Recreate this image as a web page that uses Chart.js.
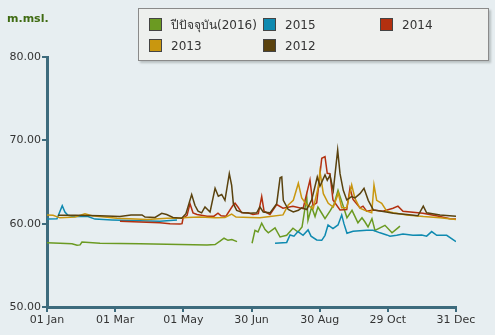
<!DOCTYPE html>
<html>
<head>
<meta charset="utf-8">
<script src="https://cdn.jsdelivr.net/npm/chart.js@4.4.1/dist/chart.umd.min.js"></script>
<style>
  body { margin: 0; background: #e7eef1; font-family: "DejaVu Sans", sans-serif; }
  #wrap { position: relative; width: 495px; height: 335px; }
  #unit { position: absolute; left: 7px; top: 12px; font-size: 11px; font-weight: bold; color: #3f6b12; }
  #legend {
    position: absolute; left: 138px; top: 8px; width: 349px; height: 51px;
    background: #eef0ee; border: 1px solid #8a8a8a; box-shadow: 2px 2px 2px #b9c0c2;
  }
  .item { position: absolute; font-size: 12px; color: #333; white-space: nowrap; line-height: 14px; }
  .item span { display: inline-block; width: 11px; height: 11px; border: 1px solid #444; vertical-align: -2px; margin-right: 9px; }
</style>
</head>
<body>
<div id="wrap">
  <canvas id="c" width="495" height="335"></canvas>
  <div id="unit">m.msl.</div>
  <div id="legend"></div>
</div>
<script>
// legend names and colours
const seriesNames = ['ปีปัจจุบัน(2016)', '2015', '2014', '2013', '2012'];
const seriesColors = ['#6b9a22', '#0f8ab0', '#b3300f', '#c9970f', '#5a420e'];

// x axis ticks (day of year)
const tickDays = [0, 60.83, 121.67, 182.5, 243.33, 304.17, 365];
const tickLabels = ['01 Jan', '01 Mar', '01 May', '30 Jun', '30 Aug', '29 Oct', '31 Dec'];

// 2016 - null marks the break in the record
const days2016 = [0, 11.6, 22.3, 26.8, 29.5, 31.2, 47.3, 83, 118.7, 142.8, 150, 154.4, 158, 161.5, 165, 169.6, 176,
  183, 185.6, 188.3, 191.6, 194.6, 197.5, 203.5, 208, 213.9, 219.5, 224, 227.6, 231.8, 232.9, 236.2, 239.2, 241.8,
  245.2, 248.1, 252.5, 256.1, 259.7, 264.1, 267.7, 272.2, 277.5, 281.1, 283.8, 286.5, 290, 292.7, 301.6, 307.9, 313.2, 315];
const level2016 = [57.72, 57.65, 57.6, 57.4, 57.45, 57.8, 57.65, 57.6, 57.5, 57.45, 57.5, 57.9, 58.25, 58.0, 58.1, 57.85, null,
  57.65, 59.2, 59.0, 60.05, 59.3, 58.9, 59.5, 58.4, 58.6, 59.45, 59.0, 59.6, 63.2, 60.4, 62.0, 60.85, 62.0,
  61.25, 60.6, 61.5, 62.3, 64.0, 62.2, 60.7, 61.6, 60.1, 60.7, 60.2, 59.6, 60.6, 59.2, 59.8, 58.9, 59.5, 59.7];

// 2015
const days2015 = [0, 8.9, 13.6, 16, 18.7, 23.2, 36.6, 42.8, 58, 83, 100.8, 116, 160,
  203.5, 213.9, 216.9, 220.4, 224, 228.5, 233, 235.6, 240.7, 245.2, 248.1, 250.8, 255.2, 259.7, 263, 265, 267.7,
  273.1, 285.3, 291, 297.2, 303.2, 306.1, 312.1, 317.7, 326.6, 334.4, 338.8, 343.3, 347.8, 356.7, 365];
const level2015 = [60.55, 60.6, 62.15, 61.4, 61.0, 60.85, 60.85, 60.55, 60.45, 60.35, 60.3, 60.45, null,
  57.65, 57.75, 58.65, 58.5, 59.05, 58.6, 59.25, 58.5, 58.05, 58.0, 58.6, 59.85, 59.4, 59.85, 61.05, 60.0, 58.85,
  59.1, 59.2, 59.2, 58.9, 58.65, 58.5, 58.6, 58.75, 58.6, 58.65, 58.5, 59.05, 58.6, 58.6, 57.85];

// 2014
const days2014 = [65.1, 83, 100.8, 109.8, 118.7, 120.5, 121.4, 125, 127.6, 130.3, 133.9, 136.5, 142.8, 149, 152.6,
  155.3, 159.7, 166, 167.8, 170.4, 173.8, 179.4, 183.8, 188.6, 191.6, 193.7, 199, 205, 210.6, 219.5, 228.5, 234.7,
  237.4, 240.7, 245.2, 248.1, 250.1, 252.5, 255.2, 261.5, 267.5, 270.4, 273.1, 279.3, 282, 285.3, 291, 299.8, 308.8,
  313.2, 317.7, 335.5, 350.7, 359.6, 365];
const level2014 = [60.3, 60.2, 60.1, 60.0, 59.95, 60.0, 60.65, 61.0, 62.4, 61.3, 61.1, 61.05, 60.9, 60.9, 61.25,
  60.95, 60.9, 62.2, 62.45, 62.0, 61.3, 61.3, 61.1, 61.2, 63.25, 61.5, 61.1, 62.3, 61.85, 62.1, 61.8, 65.25,
  62.2, 62.5, 67.85, 68.05, 66.05, 66.0, 62.85, 61.65, 61.7, 64.25, 62.9, 61.9, 62.1, 61.5, 61.65, 61.5, 61.85,
  62.1, 61.5, 61.25, 60.85, 60.6, 60.55];

// 2013
const days2013 = [0, 5.4, 11.6, 25, 33.9, 40.2, 62.5, 89.2, 107, 116, 125, 136.5, 150, 158.8, 164.8, 168.7, 181.2,
  190, 199, 210.6, 215.3, 219.8, 224.3, 227.3, 231.8, 237.6, 242.1, 243.6, 246.6, 251, 255.5, 260, 263, 267.5,
  271.9, 274.9, 279.3, 285.3, 289.8, 291.8, 294.2, 298.7, 303.2, 309, 321, 335.8, 350.7, 365];
const level2013 = [61.05, 61.0, 60.7, 60.8, 61.2, 60.95, 60.65, 60.5, 60.65, 60.65, 60.75, 60.8, 60.7, 60.75, 61.15, 60.8, 60.75,
  60.7, 60.85, 61.05, 62.25, 62.8, 64.85, 63.1, 62.25, 61.8, 64.45, 66.25, 63.6, 62.45, 62.0, 63.65, 61.9, 61.9,
  64.65, 63.0, 61.85, 61.5, 61.3, 64.65, 62.8, 62.45, 61.5, 61.3, 61.05, 60.85, 60.7, 60.5];

// 2012
const days2012 = [9.8, 25, 47.3, 65, 75, 84.8, 87.5, 96.4, 102.4, 106.8, 112.4, 120.2, 124, 129.1, 132, 134.8, 138,
  141, 145.5, 150, 152.9, 155.9, 158.8, 162.7, 164.8, 166.3, 169.3, 175.2, 181.2, 187.1, 190, 193, 199, 205, 208,
  209.5, 210.9, 215.3, 219.8, 224.3, 227.3, 231.8, 236.2, 241.2, 243.6, 248.1, 250.1, 252.5, 255.5, 259.4, 261.5,
  264.4, 267.5, 271.9, 274.9, 279.3, 282.9, 286.7, 291.2, 300.1, 309, 321, 331, 335.8, 338.8, 350.7, 365];
const level2012 = [61.0, 61.0, 60.95, 60.85, 61.05, 61.05, 60.8, 60.75, 61.25, 61.1, 60.75, 60.65, 61.2, 63.5, 62.2, 61.5, 61.3,
  62.0, 61.4, 64.25, 63.3, 63.5, 62.8, 66.0, 64.6, 62.4, 61.6, 61.3, 61.25, 61.3, 62.0, 61.4, 61.3, 62.4, 65.5,
  65.6, 62.8, 61.7, 61.4, 61.6, 61.9, 61.7, 62.85, 65.6, 64.5, 65.85, 65.2, 65.8, 64.0, 68.85, 66.0,
  64.0, 62.85, 63.25, 63.1, 63.6, 64.25, 62.8, 61.65, 61.45, 61.25, 61.1, 60.95, 62.1, 61.3, 61.05, 60.9];

const seriesDays = [days2016, days2015, days2014, days2013, days2012];
const seriesLevels = [level2016, level2015, level2014, level2013, level2012];

// build the html legend
const legend = document.getElementById('legend');
const legendPos = [[10, 9], [124, 9], [241, 9], [10, 30], [124, 30]];
seriesNames.forEach((name, i) => {
  const d = document.createElement('div');
  d.className = 'item';
  d.style.left = legendPos[i][0] + 'px';
  d.style.top = legendPos[i][1] + 'px';
  d.innerHTML = '<span style="background:' + seriesColors[i] + '"></span>' + name;
  legend.appendChild(d);
});

const axisColor = '#3d6b7d';

const datasets = seriesNames.map((name, i) => ({
  label: name,
  data: seriesDays[i].map((d, j) => ({ x: d, y: seriesLevels[i][j] })),
  borderColor: seriesColors[i],
  backgroundColor: seriesColors[i],
  borderWidth: 1.5,
  pointRadius: 0,
  tension: 0,
  spanGaps: false,
  order: 4 - i
}));

new Chart(document.getElementById('c'), {
  type: 'line',
  data: { datasets: datasets },
  options: {
    responsive: false,
    animation: false,
    layout: { padding: { left: 0, top: 57, right: 39, bottom: 0 } },
    plugins: { legend: { display: false }, tooltip: { enabled: false } },
    scales: {
      x: {
        type: 'linear',
        min: 0,
        max: 365,
        afterBuildTicks: (scale) => { scale.ticks = tickDays.map(v => ({ value: v })); },
        afterFit: (scale) => { scale.height = 28; },
        ticks: {
          autoSkip: false,
          maxRotation: 0,
          color: '#333',
          font: { family: 'DejaVu Sans', size: 11 },
          padding: 2,
          callback: (v, i) => tickLabels[i]
        },
        grid: { drawOnChartArea: false, color: axisColor, lineWidth: 2, tickLength: 5 },
        border: { color: axisColor, width: 3 }
      },
      y: {
        min: 50,
        max: 80,
        afterBuildTicks: (scale) => { scale.ticks = [50, 60, 70, 80].map(v => ({ value: v })); },
        afterFit: (scale) => { scale.width = 47; },
        ticks: {
          color: '#333',
          font: { family: 'DejaVu Sans', size: 11 },
          padding: 1,
          callback: (v) => v.toFixed(2)
        },
        grid: { drawOnChartArea: false, color: axisColor, lineWidth: 2, tickLength: 5 },
        border: { color: axisColor, width: 3 }
      }
    }
  }
});
</script>
</body>
</html>
